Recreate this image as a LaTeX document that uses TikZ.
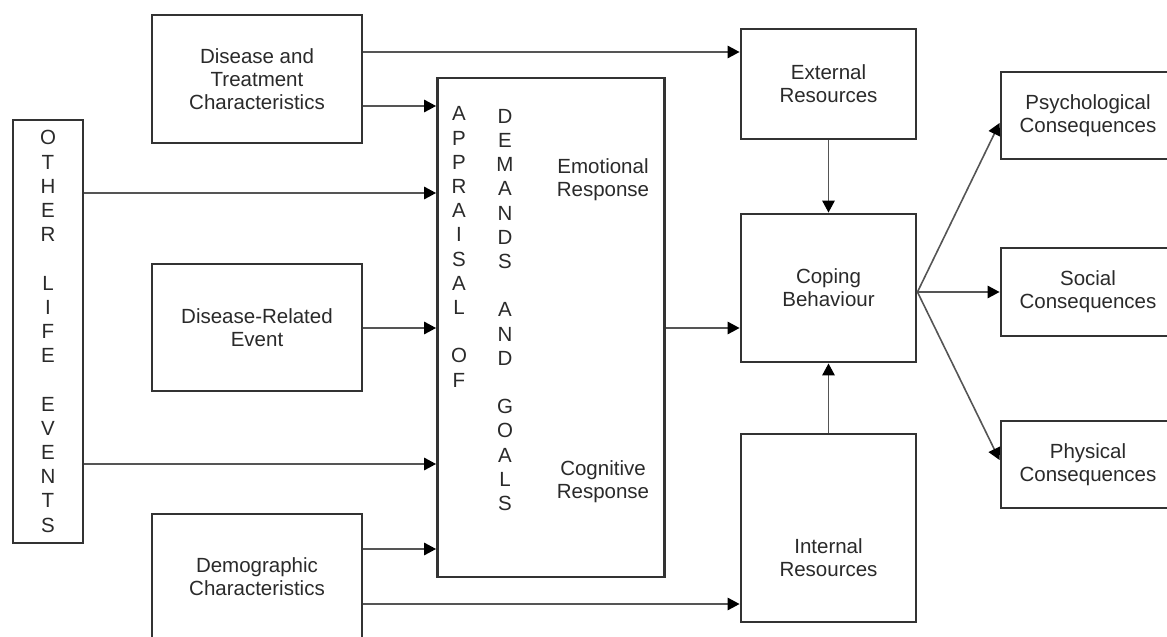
\documentclass[tikz,border=0pt]{standalone}
\usepackage{fontspec}
\setmainfont{Liberation Sans}
\usetikzlibrary{arrows.meta}
\definecolor{boxc}{HTML}{333333}
\definecolor{linec}{HTML}{555555}
\definecolor{txt}{HTML}{2A2A2A}
\begin{document}
\begin{tikzpicture}[x=1pt,y=-1pt,
  box/.style={draw=boxc,line width=2.9pt,fill=white,inner sep=0pt,align=center,text=txt,font=\fontsize{20.5}{23}\selectfont},
  lbl/.style={align=center,text=txt,font=\fontsize{20.5}{23}\selectfont,inner sep=0pt},
  col/.style={align=center,text=txt,font=\fontsize{20.5}{24.2}\selectfont,inner sep=0pt},
  arr/.style={draw=linec,line width=1.6pt,-{Triangle[length=12pt,width=12.5pt,color=black]}}]
\useasboundingbox (0,0) rectangle (1167,637);
\clip (0,0) rectangle (1167,637);
% left column
\node[box,minimum width=210pt,minimum height=128pt] (dt) at (257,79) {Disease and\\Treatment\\Characteristics};
\node[box,minimum width=210pt,minimum height=127pt] (dre) at (257,327.5) {Disease-Related\\Event};
\node[box,minimum width=210pt,minimum height=126pt] (demo) at (257,577) {Demographic\\Characteristics};
\node[box,minimum width=70pt,minimum height=423pt] (ole) at (48,331.5) {};
\node[col] (olet) at (48,331.5) {O\\T\\H\\E\\R\\~\\L\\I\\F\\E\\~\\E\\V\\E\\N\\T\\S};
% appraisal
\node[box,minimum width=227pt,minimum height=499pt] (app) at (551,327.5) {};
\node[col] (appa) at (459,247) {A\\P\\P\\R\\A\\I\\S\\A\\L\\~\\O\\F};
\node[col] (appd) at (505,310) {D\\E\\M\\A\\N\\D\\S\\~\\A\\N\\D\\~\\G\\O\\A\\L\\S};
\node[lbl] (emo) at (603,180) {Emotional\\Response};
\node[lbl] (cog) at (603,482) {Cognitive\\Response};
% middle right
\node[box,minimum width=175pt,minimum height=110pt] (er) at (828.5,84) {External\\Resources};
\node[box,minimum width=175pt,minimum height=148pt] (cb) at (828.5,288) {Coping\\Behaviour};
\node[box,minimum width=175pt,minimum height=188pt] (ir) at (828.5,528) {};
\node[lbl] (irt) at (828.5,558) {Internal\\Resources};
% consequences
\node[box,minimum width=174pt,minimum height=87pt] (psy) at (1088,115.5) {Psychological\\Consequences};
\node[box,minimum width=174pt,minimum height=88pt] (soc) at (1088,292) {Social\\Consequences};
\node[box,minimum width=174pt,minimum height=87pt] (phy) at (1088,464.5) {Physical\\Consequences};
% helper levels
\coordinate (y52) at (0,52);
\coordinate (y106) at (0,106);
\coordinate (y193) at (0,193);
\coordinate (y328) at (0,328);
\coordinate (y464) at (0,464);
\coordinate (y549) at (0,549);
\coordinate (y604) at (0,604);
\coordinate (y292) at (0,292);
\coordinate (y123) at (0,123);
\coordinate (y460) at (0,460);
% connectors
\draw[arr] (dt.east |- y52) -- (er.west |- y52);
\draw[arr] (dt.east |- y106) -- (app.west |- y106);
\draw[arr] (ole.east |- y193) -- (app.west |- y193);
\draw[arr] (dre.east |- y328) -- (app.west |- y328);
\draw[arr] (ole.east |- y464) -- (app.west |- y464);
\draw[arr] (demo.east |- y549) -- (app.west |- y549);
\draw[arr] (demo.east |- y604) -- (ir.west |- y604);
\draw[arr] (app.east |- y328) -- (cb.west |- y328);
\draw[arr] (er.south) -- (cb.north);
\draw[arr] (ir.north) -- (cb.south);
\draw[arr] (cb.east |- y292) -- (psy.west |- y123);
\draw[arr] (cb.east |- y292) -- (soc.west |- y292);
\draw[arr] (cb.east |- y292) -- (phy.west |- y460);
\end{tikzpicture}
\end{document}
